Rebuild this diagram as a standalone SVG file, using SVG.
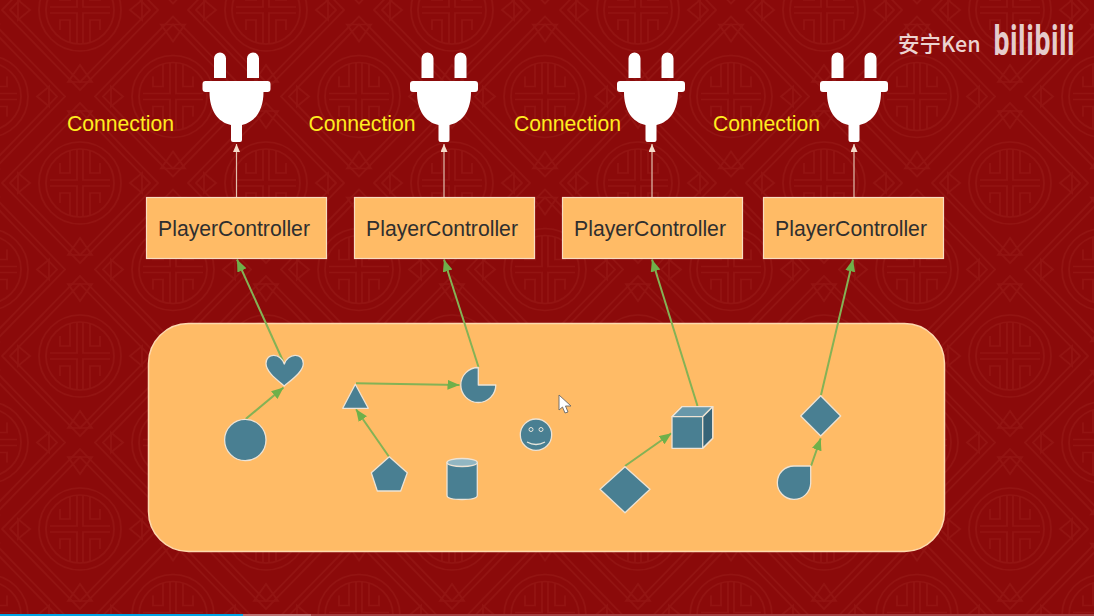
<svg xmlns="http://www.w3.org/2000/svg" xmlns:xlink="http://www.w3.org/1999/xlink" width="1094" height="616" viewBox="0 0 1094 616">
<style>
.pat{fill:none;stroke:#931412;stroke-width:1.7}
.box{fill:#ffbb66;stroke:#f8dcc0;stroke-width:1.2}
.lbl{font-family:"Liberation Sans",Arial,sans-serif;font-size:21.2px;fill:#2f2f2f;text-anchor:middle}
.con{font-family:"Liberation Sans",Arial,sans-serif;font-size:21.2px;fill:#ffec1f;text-anchor:middle}
.s{fill:#497f92;stroke:#eee3d4;stroke-width:1.3;stroke-linejoin:round}
.g{fill:none;stroke:#84b255;stroke-width:2;marker-end:url(#ga)}
.u{fill:none;stroke:#e2bfae;stroke-width:1.2;marker-end:url(#wa)}
.plug{fill:#fff}
</style>
<defs>
<marker id="ga" markerUnits="userSpaceOnUse" markerWidth="14" markerHeight="12" refX="12" refY="5" orient="auto"><path d="M0 0L12 5L0 10Z" fill="#6fb04a"/></marker>
<marker id="wa" markerUnits="userSpaceOnUse" markerWidth="10" markerHeight="10" refX="8" refY="3.5" orient="auto"><path d="M0 0L8 3.5L0 7Z" fill="#f5dccb"/></marker>
<g id="med">
<path class="pat" d="M0 -80L78 0L0 80L-78 0Z"/>
<path class="pat" d="M0 -72L70 0L0 72L-70 0Z"/>
<circle class="pat" r="41"/><circle class="pat" r="34"/>
<path class="pat" d="M-3 -34V-3H-30M3 -34V-3H30M-3 34V3H-30M3 34V3H30"/>
<path class="pat" d="M-10 -32V-10H-20V-20M10 -32V-10H20V-20M-10 32V10H-20V20M10 32V10H20V20"/>
<path class="pat" d="M-12 -72H12L0 -55ZM-12 72H12L0 55ZM-62 -10V10L-50 0ZM62 -10V10L50 0Z"/>
</g>
<pattern id="bgp" patternUnits="userSpaceOnUse" x="-13" y="10" width="186" height="173">
<use xlink:href="#med" x="93" y="0"/><use xlink:href="#med" x="93" y="173"/>
<use xlink:href="#med" x="0" y="86.5"/><use xlink:href="#med" x="186" y="86.5"/>
</pattern>
</defs>
<rect id="background" width="1094" height="616" fill="#8b0a0a"/>
<rect width="1094" height="616" fill="url(#bgp)"/>
<rect id="bar1" x="0" y="614" width="243" height="2" fill="#00a4e4"/>
<rect id="bar2" x="243" y="614" width="68" height="2" fill="#bb7070"/>
<rect id="bar3" x="311" y="614" width="783" height="2" fill="#a23c3c"/>

<g id="group-panel"><rect x="148.500" y="323.500" width="796" height="228" rx="40" fill="#ffbb66" stroke="#fdd9ae" stroke-width="1.500"/></g>

<g id="connectors">
<path class="u" d="M236.500 197V144"/>
<path class="u" d="M444 197V144"/>
<path class="u" d="M652 197V144"/>
<path class="u" d="M854 197V144"/>
<path class="g" d="M283 361L237 259.500"/>
<path class="g" d="M478.500 367L444 259.500"/>
<path class="g" d="M697.500 406L652 259.500"/>
<path class="g" d="M821 395L853 259.500"/>
<path class="g" d="M245.700 419L283.500 387.500"/>
<path class="g" d="M356 383.300L459.500 385"/>
<path class="g" d="M389 456.700L356 409.300"/>
<path class="g" d="M625 466L671.500 433.300"/>
<path class="g" d="M811 466L820.700 438.300"/>
</g>

<g id="plug-1" transform="translate(236.500,0)"><path class="plug" id="p1" d="M-22.500 78V58.500a6 6 0 0 1 12 0V78ZM10.500 78V58.500a6 6 0 0 1 12 0V78ZM-31 81H31a3 3 0 0 1 3 3V89a3 3 0 0 1 -3 3H27C27 110 19 122 5.500 125V140a2 2 0 0 1 -2 2H-3.500a2 2 0 0 1 -2 -2V125C-19 122 -27 110 -27 92H-31a3 3 0 0 1 -3 -3V84a3 3 0 0 1 3 -3Z"/></g>
<g id="plug-2" transform="translate(444,0)"><use xlink:href="#p1"/></g>
<g id="plug-3" transform="translate(651,0)"><use xlink:href="#p1"/></g>
<g id="plug-4" transform="translate(854,0)"><use xlink:href="#p1"/></g>

<g id="conn-1"><text class="con" x="120.500" y="131">Connection</text></g>
<g id="conn-2"><text class="con" x="362" y="131">Connection</text></g>
<g id="conn-3"><text class="con" x="567.500" y="131">Connection</text></g>
<g id="conn-4"><text class="con" x="766.500" y="131">Connection</text></g>

<g id="pc-1"><rect class="box" x="146.500" y="197.500" width="180" height="61"/><text class="lbl" x="234" y="236">PlayerController</text></g>
<g id="pc-2"><rect class="box" x="354.500" y="197.500" width="180" height="61"/><text class="lbl" x="442" y="236">PlayerController</text></g>
<g id="pc-3"><rect class="box" x="562.500" y="197.500" width="180" height="61"/><text class="lbl" x="650" y="236">PlayerController</text></g>
<g id="pc-4"><rect class="box" x="763.500" y="197.500" width="180" height="61"/><text class="lbl" x="851" y="236">PlayerController</text></g>

<g id="heart"><path class="s" d="M284.300 386C276 379 266 371.500 266 363.500C266 352 281 353 284.300 364C287.500 353 303.300 352 303.300 363.500C303.300 371.500 292.500 379 284.300 386Z"/></g>
<g id="circle"><circle class="s" cx="245.300" cy="440" r="20.700"/></g>
<g id="triangle"><path class="s" d="M355.300 384.300L368.300 408.300H342.700Z"/></g>
<g id="pie"><path class="s" d="M478.300 367.500A17.500 17.500 0 1 0 495.800 385H478.300Z"/></g>
<g id="pentagon"><path class="s" d="M389.300 456.700L407.300 472.700L400.700 491H377.300L371.300 472.700Z"/></g>
<g id="cylinder"><path class="s" d="M447 462.500V495.500C447 498 453 499.500 462 499.500S477.300 498 477.300 495.500V462.500Z"/><ellipse cx="462.150" cy="462.500" rx="15.150" ry="4" fill="#92b6c2" stroke="#eee3d4" stroke-width="1.300"/></g>
<g id="smiley"><circle class="s" cx="536" cy="434.700" r="15.700"/><circle cx="531" cy="429.500" r="2" fill="none" stroke="#e8e6dc"/><circle cx="541" cy="429.500" r="2" fill="none" stroke="#e8e6dc"/><path d="M527 442Q536 447 545 442" fill="none" stroke="#e8e6dc" stroke-width="1.300"/></g>
<g id="cursor"><path d="M559 395V410L562.500 407L565 413L568 412L565.500 406L571 406Z" fill="#fff" stroke="#666" stroke-width="0.900"/></g>
<g id="cube"><path class="s" d="M672 416.700L682 406.700H712.700V438.300L702.700 448.300H672Z"/><path d="M672 416.700L682 406.700H712.700L702.700 416.700Z" fill="#6898aa" stroke="#eee3d4" stroke-width="1.300" stroke-linejoin="round"/><path d="M702.700 416.700L712.700 406.700V438.300L702.700 448.300Z" fill="#376477" stroke="#eee3d4" stroke-width="1.300" stroke-linejoin="round"/></g>
<g id="diamond-large"><path class="s" d="M625 466.700L650 489.300L625 512.700L600 489.300Z"/></g>
<g id="diamond-small"><path class="s" d="M820.700 395.700L840.700 416L820.700 436L800.700 416Z"/></g>
<g id="drop"><path class="s" d="M794 466H810.700V483.300A16.700 16.700 0 1 1 794 466Z"/></g>

<g id="watermark">
<text x="898" y="52" font-family="'Noto Sans CJK SC','Noto Sans',sans-serif" font-size="21.500" font-weight="500" fill="#ecd3d0">安宁Ken</text>
<text transform="translate(993,55) scale(0.63,1)" font-family="'Open Sans','Noto Sans',sans-serif" font-weight="700" fill="#e6cccc" font-size="42">bilibili</text>
</g>
</svg>
